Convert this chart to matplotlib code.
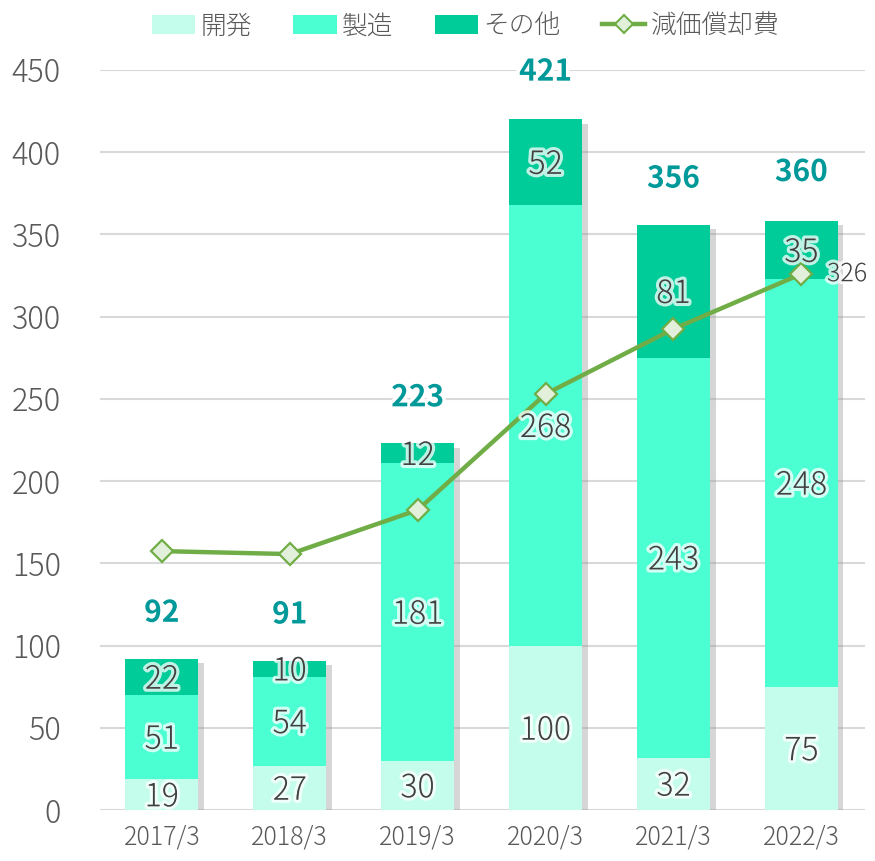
import numpy as np
import matplotlib
matplotlib.use('Agg')
import matplotlib.pyplot as plt
import matplotlib.patheffects as pe
from matplotlib.patches import Patch
from matplotlib.lines import Line2D

plt.rcParams['font.family'] = ['Noto Sans CJK JP', 'DejaVu Sans']

years = ['2017/3', '2018/3', '2019/3', '2020/3', '2021/3', '2022/3']
dev = [19, 27, 30, 100, 32, 75]
mfg = [51, 54, 181, 268, 243, 248]
other = [22, 10, 12, 52, 81, 35]
totals = [92, 91, 223, 421, 356, 360]
depr = [157.5, 155.7, 182.5, 253, 292.6, 326]

series = [('開発', dev, '#C4FDEB'), ('製造', mfg, '#4BFFD2'), ('その他', other, '#00CC99')]

fig = plt.figure(figsize=(8.75, 8.61), dpi=100)
ax = fig.add_axes([0.114, 0.059, 0.875, 0.8597])
x = np.arange(len(years))
w = 0.57

glow = [pe.withStroke(linewidth=4.5, foreground='white', alpha=0.75)]
shadow = [pe.SimplePatchShadow(offset=(4, -3), shadow_rgbFace='#8c8c8c', alpha=0.35), pe.Normal()]

# shadow under the full bar
tops = np.array(dev) + np.array(mfg) + np.array(other)
sh = ax.bar(x, tops, w, color='white', zorder=1)
for b in sh:
    b.set_path_effects(shadow)

bottom = np.zeros(len(years))
for name, vals, col in series:
    vals = np.array(vals)
    ax.bar(x, vals, w, bottom=bottom, color=col, label=name, zorder=2)
    for xi, b, v in zip(x, bottom, vals):
        ax.text(xi, b + v / 2 - 1.5, str(v), ha='center', va='center', fontsize=23,
                fontweight='light', color='#404040', zorder=5, path_effects=glow)
    bottom += vals

for xi, t in zip(x, totals):
    ax.text(xi, t + 28, str(t), ha='center', va='center', fontsize=21.5,
            fontweight='bold', color='#009999', zorder=5,
            path_effects=[pe.withStroke(linewidth=5, foreground='white')])

ax.plot(x, depr, color='#70AD47', lw=3.2, marker='D', ms=11, mfc='#E2EFDA',
        mec='#70AD47', mew=1.6, zorder=4)
ax.text(x[-1] + 0.2, depr[-1], str(int(depr[-1])), ha='left', va='center',
        fontsize=18, fontweight='light', color='#404040', zorder=5, path_effects=glow)

ax.set_xlim(-0.485, 5.5)
ax.set_ylim(0, 450)
ax.set_yticks(range(0, 451, 50))
ax.set_xticks(x)
ax.set_xticklabels(years)
ax.tick_params(axis='y', length=0, labelsize=22, labelcolor='#595959', pad=28)
ax.tick_params(axis='x', length=0, labelsize=18, labelcolor='#595959', pad=10)
for lab in ax.get_xticklabels() + ax.get_yticklabels():
    lab.set_fontweight('light')
ax.grid(axis='y', color='#D9D9D9', lw=1.5, zorder=0)
ax.set_axisbelow(True)
for s in ax.spines.values():
    s.set_visible(False)

handles = [Patch(facecolor=c, label=n) for n, _, c in series]
handles.append(Line2D([0], [0], color='#70AD47', lw=3.2, marker='D', ms=9,
                      mfc='#E2EFDA', mec='#70AD47', mew=1.5, label='減価償却費'))
fig.legend(handles=handles, loc='upper center', bbox_to_anchor=(0.532, 1.012), ncol=4,
           frameon=False, handlelength=1.7, handleheight=0.75,
           handletextpad=0.2, columnspacing=1.6, labelcolor='#595959',
           prop={'size': 18.5, 'weight': 'light'})

fig.savefig('out.png', dpi=100)
